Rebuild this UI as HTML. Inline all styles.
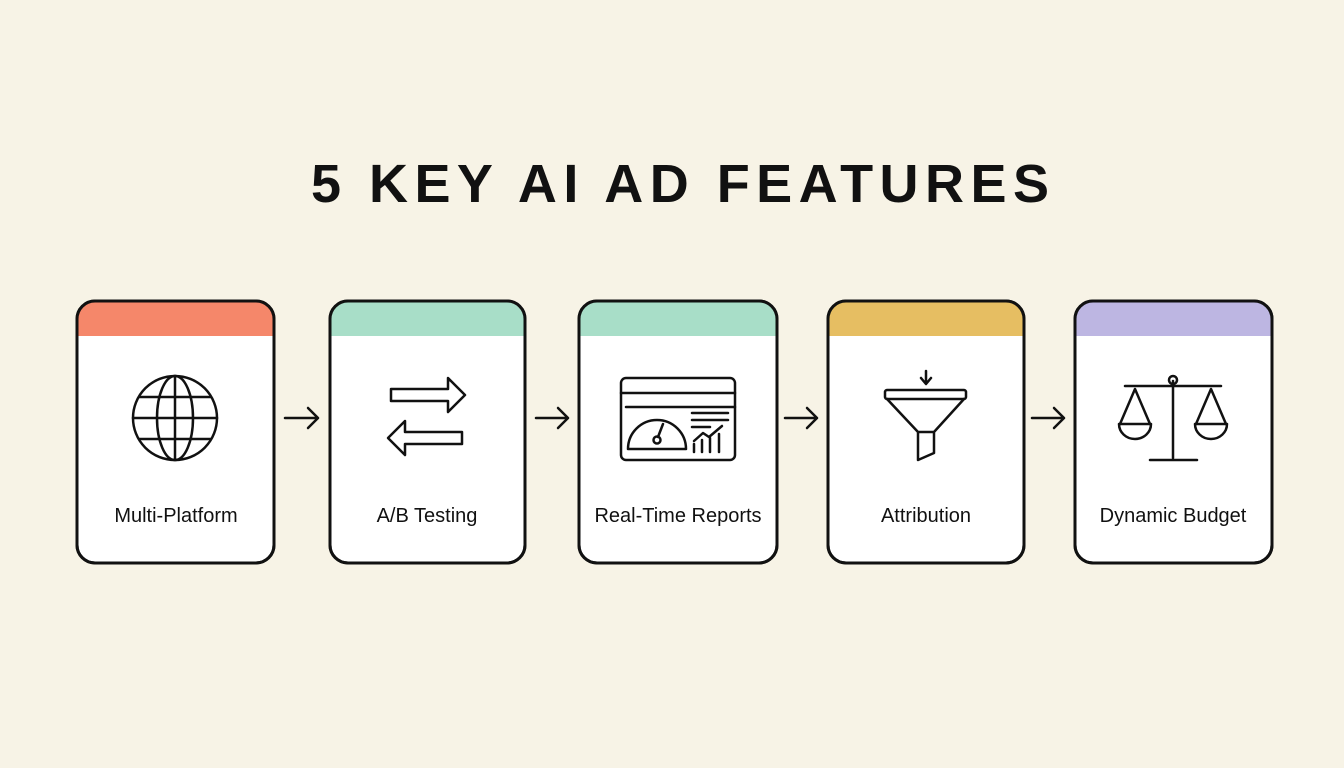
<!DOCTYPE html>
<html><head><meta charset="utf-8"><style>
html,body{margin:0;padding:0;background:#F7F3E6;}
svg{display:block}
text{font-family:"Liberation Sans",sans-serif;fill:#111}
</style></head><body>
<svg width="1344" height="768" viewBox="0 0 1344 768" xmlns="http://www.w3.org/2000/svg">
<rect width="1344" height="768" fill="#F7F3E6"/>
<text x="680" y="202" text-anchor="middle" font-size="54" font-weight="bold" textLength="738" lengthAdjust="spacing">5 KEY AI AD FEATURES</text>
<defs>
<clipPath id="c1"><rect x="77" y="301" width="197" height="262" rx="18"/></clipPath>
<clipPath id="c2"><rect x="330" y="301" width="195" height="262" rx="18"/></clipPath>
<clipPath id="c3"><rect x="579" y="301" width="198" height="262" rx="18"/></clipPath>
<clipPath id="c4"><rect x="828" y="301" width="196" height="262" rx="18"/></clipPath>
<clipPath id="c5"><rect x="1075" y="301" width="197" height="262" rx="18"/></clipPath>
</defs>
<g stroke="#111" stroke-width="3" fill="none">
<rect x="77" y="301" width="197" height="262" rx="18" fill="#fff"/>
<rect x="330" y="301" width="195" height="262" rx="18" fill="#fff"/>
<rect x="579" y="301" width="198" height="262" rx="18" fill="#fff"/>
<rect x="828" y="301" width="196" height="262" rx="18" fill="#fff"/>
<rect x="1075" y="301" width="197" height="262" rx="18" fill="#fff"/>
</g>
<rect x="77" y="301" width="197" height="35" fill="#F5876A" clip-path="url(#c1)"/>
<rect x="330" y="301" width="195" height="35" fill="#A8DEC8" clip-path="url(#c2)"/>
<rect x="579" y="301" width="198" height="35" fill="#A8DEC8" clip-path="url(#c3)"/>
<rect x="828" y="301" width="196" height="35" fill="#E6BE62" clip-path="url(#c4)"/>
<rect x="1075" y="301" width="197" height="35" fill="#BDB6E2" clip-path="url(#c5)"/>
<g stroke="#111" stroke-width="3" fill="none">
<rect x="77" y="301" width="197" height="262" rx="18"/>
<rect x="330" y="301" width="195" height="262" rx="18"/>
<rect x="579" y="301" width="198" height="262" rx="18"/>
<rect x="828" y="301" width="196" height="262" rx="18"/>
<rect x="1075" y="301" width="197" height="262" rx="18"/>
</g>
<g stroke="#111" stroke-width="2.5" fill="none" stroke-linecap="round" stroke-linejoin="round">
<path d="M285 418H318M308 408L318 418L308 428"/>
<path d="M536 418H568M558 408L568 418L558 428"/>
<path d="M785 418H817M807 408L817 418L807 428"/>
<path d="M1032 418H1064M1054 408L1064 418L1054 428"/>
</g>
<g stroke="#111" stroke-width="2.5" fill="none" stroke-linejoin="round" stroke-linecap="round">
<circle cx="175" cy="418" r="42"/>
<ellipse cx="175" cy="418" rx="18" ry="42"/>
<path d="M175 376V460M133 418H217M139 397H211M139 439H211"/>
<path d="M391 389H448V378L465 395L448 412V401H391Z"/>
<path d="M462 432H405V421L388 438L405 455V444H462Z"/>
<rect x="621" y="378" width="114" height="82" rx="5"/>
<path d="M621 393H735M626 407H735"/>
<path d="M628 449A29 29 0 1 1 686 449Z"/>
<path d="M658 437L663 424"/><circle cx="657" cy="440" r="3.5"/>
<path d="M692 413H728M692 420H728M692 427H710M694 441L703 433L709 437L722 426"/>
<path d="M694 452V444M702 452V440M710 452V438M719 452V434"/>
<path d="M926 371V383M921 378L926 384L931 378"/>
<rect x="885" y="390" width="81" height="9" rx="2"/>
<path d="M887 399L918 432H934L964 399M918 432V460L934 453V432"/>
<path d="M1173 381V458M1125 386H1221M1150 460H1197"/>
<circle cx="1173" cy="380" r="4"/>
<path d="M1135 389L1120 424M1135 389L1150 424M1211 389L1196 424M1211 389L1226 424"/>
<path d="M1119 424H1151A16 15 0 0 1 1119 424Z"/>
<path d="M1195 424H1227A16 15 0 0 1 1195 424Z"/>
</g>
<g font-size="20" text-anchor="middle">
<text x="176" y="522">Multi-Platform</text>
<text x="427" y="522">A/B Testing</text>
<text x="678" y="522">Real-Time Reports</text>
<text x="926" y="522">Attribution</text>
<text x="1173" y="522">Dynamic Budget</text>
</g>
</svg>
</body></html>
